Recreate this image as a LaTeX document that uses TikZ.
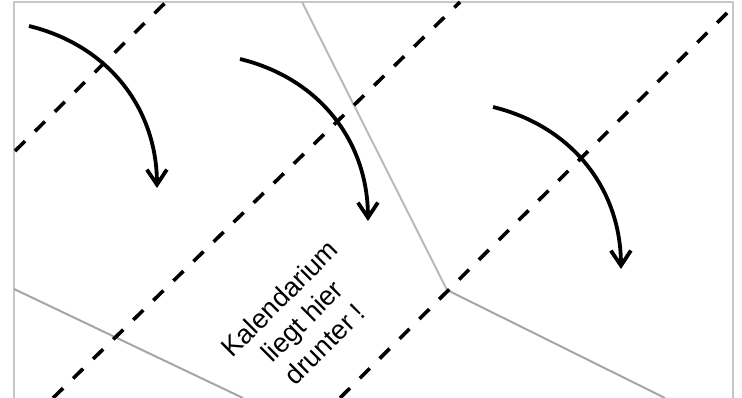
\documentclass[tikz,border=0pt]{standalone}
\usepackage{fontspec}
\setmainfont{Liberation Sans}
\usetikzlibrary{arrows.meta}

\begin{document}
\begin{tikzpicture}[x=1pt,y=1pt,>={Straight Barb[length=15pt,width=20pt]},
                    fold line/.style={line width=3.6pt,dash pattern=on 14pt off 14pt},
                    cut line/.style={line width=2pt,draw=black!35},
                    turn/.style={->,line width=3.8pt,bend left=38}]
  \useasboundingbox (0,0) rectangle (742,-398);
  % sheet border
  \draw[line width=2pt,draw=black!22] (14,-398) -- (14,-2) -- (733,-2) -- (733,-398);
  % cut edges
  \coordinate (t1) at (302,-2);
  \coordinate (v1) at (447,-290);
  \coordinate (r1) at (665,-398);
  \coordinate (l1) at (14,-289);
  \coordinate (b1) at (243,-398);
  \draw[cut line,draw=black!27] (t1) -- (v1);
  \draw[cut line] (v1) -- (r1);
  \draw[cut line] (l1) -- (b1);
  % fold lines
  \coordinate (f1) at (15,-151);
  \coordinate (f2) at (166,-2);
  \coordinate (f3) at (53,-398);
  \coordinate (f4) at (460,-2);
  \coordinate (f5) at (340,-398);
  \coordinate (f6) at (728,-12);
  \draw[fold line] (f1) -- (f2);
  \draw[fold line] (f3) -- (f4);
  \draw[fold line] (f5) -- (f6);
  % turn arrows
  \coordinate (s1) at (29,-26);
  \coordinate (e1) at (157,-188);
  \coordinate (s2) at (240,-59);
  \coordinate (e2) at (368,-221);
  \coordinate (s3) at (493,-107);
  \coordinate (e3) at (621,-269);
  \draw[turn] (s1) to (e1);
  \draw[turn] (s2) to (e2);
  \draw[turn] (s3) to (e3);
  \node[rotate=45,align=center,font=\fontsize{27}{32}\selectfont] (note) at (302,-321)
    {Kalendarium\\liegt hier\\drunter !};
\end{tikzpicture}
\end{document}
